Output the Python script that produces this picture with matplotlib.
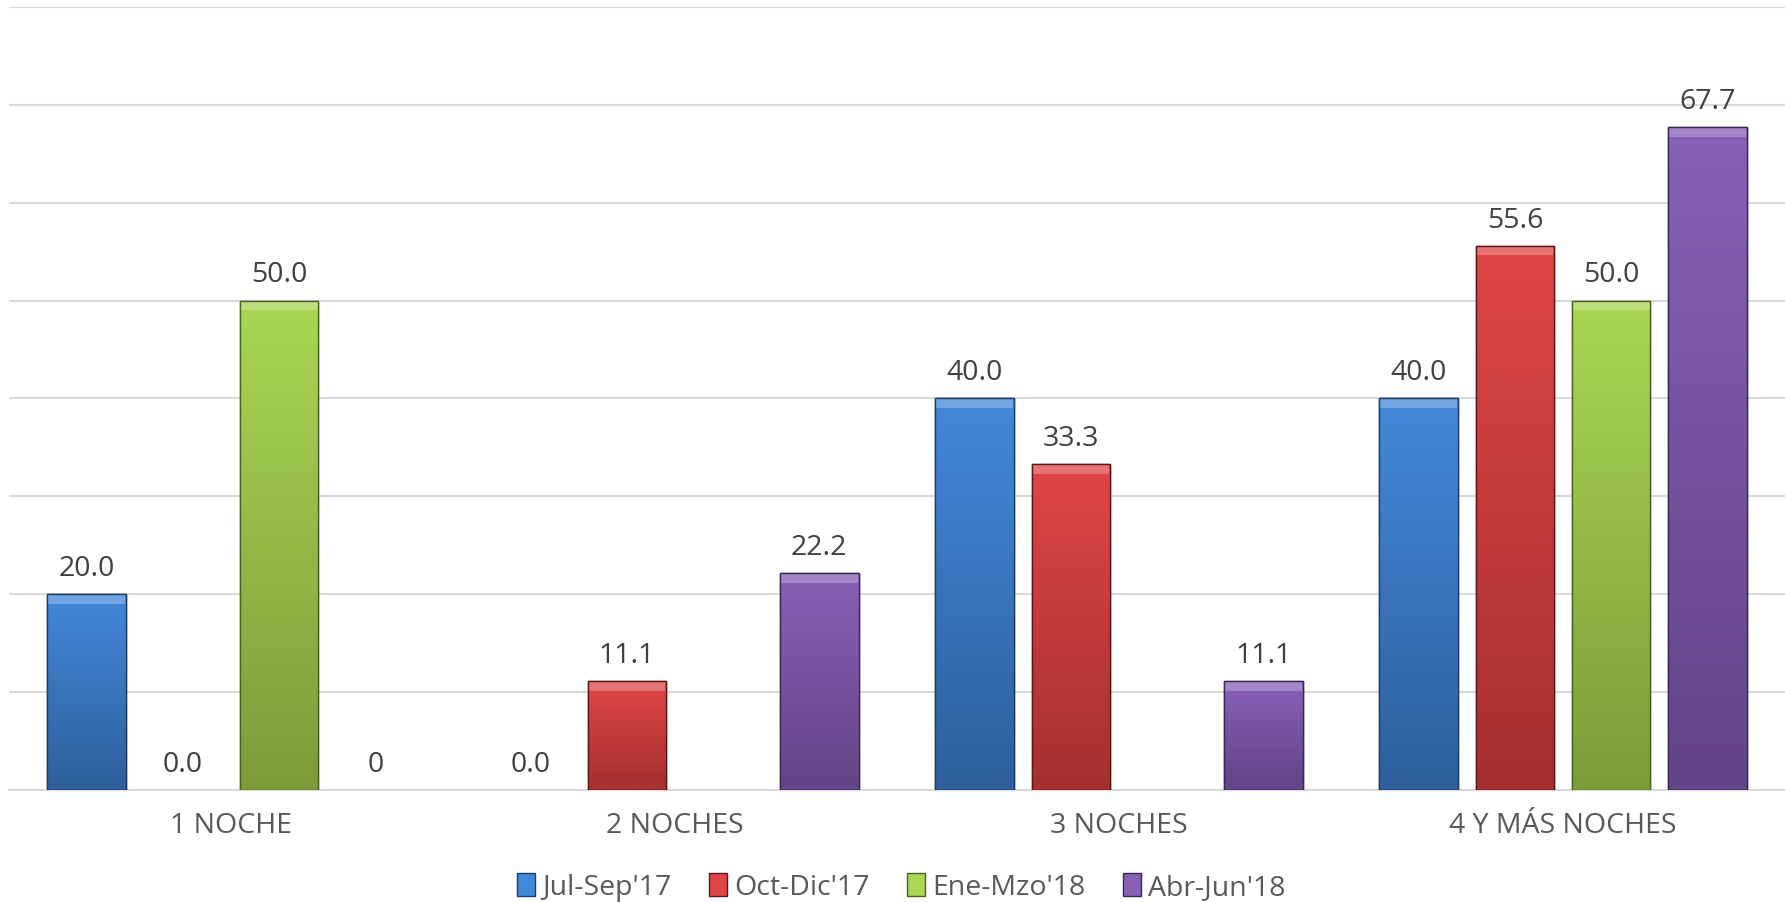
import numpy as np
import matplotlib
matplotlib.use("Agg")
import matplotlib.pyplot as plt
from matplotlib.colors import LinearSegmentedColormap
from matplotlib.patches import Patch

plt.rcParams['font.family'] = ['Open Sans', 'DejaVu Sans']

# data
categories = ["1 NOCHE", "2 NOCHES", "3 NOCHES", "4 Y MÁS NOCHES"]
series = ["Jul-Sep'17", "Oct-Dic'17", "Ene-Mzo'18", "Abr-Jun'18"]
jul_sep = [20.0, 0.0, 40.0, 40.0]
oct_dic = [0.0, 11.1, 33.3, 55.6]
ene_mzo = [50.0, None, None, 50.0]
abr_jun = [0.0, 22.2, 11.1, 67.7]
labels = [
    ["20.0", "0.0", "40.0", "40.0"],
    ["0.0", "11.1", "33.3", "55.6"],
    ["50.0", "", "", "50.0"],
    ["0", "22.2", "11.1", "67.7"],
]
values = [jul_sep, oct_dic, ene_mzo, abr_jun]

# (light top, dark bottom, edge)
colors = [
    ("#4389da", "#2f5f9c", "#1d3d66"),
    ("#e04646", "#a53030", "#5e1616"),
    ("#a9d653", "#7b9c39", "#4b6122"),
    ("#8761b6", "#634486", "#3c2855"),
]

fig = plt.figure(figsize=(17.85, 9.02), dpi=100)
ax = fig.add_axes([0.005, 0.124, 0.995, 0.8685])

x = np.arange(len(categories))
step = 0.2167
width = 0.177

for i, vals in enumerate(values):
    light, dark, edge = colors[i]
    cmap = LinearSegmentedColormap.from_list("g%d" % i, [dark, light])
    for j, v in enumerate(vals):
        xpos = x[j] + (i - 1.5) * step
        if v is not None and v > 0:
            bar = ax.bar(xpos, v, width, color=light, edgecolor=edge,
                         linewidth=1.0, zorder=3)[0]
            grad = np.linspace(0, 1, 100).reshape(-1, 1)
            im = ax.imshow(grad, cmap=cmap, aspect="auto", origin="lower",
                           extent=[xpos - width / 2, xpos + width / 2, 0, v],
                           zorder=3.5)
            im.set_clip_path(bar)
            # top bevel
            ax.bar(xpos, 1.0, width * 0.98, bottom=v - 1.0, color="white",
                   alpha=0.25, linewidth=0, zorder=4)
            ax.bar(xpos, v, width, fill=False, edgecolor=edge,
                   linewidth=1.0, zorder=5)
        txt = labels[i][j]
        if txt:
            ax.annotate(txt, (xpos, v if v else 0), xytext=(0, 8),
                        textcoords="offset points", ha="center", va="bottom",
                        fontsize=20.5, color="#404040", zorder=6)

ax.set_xlim(-0.5, 3.5)
ax.set_ylim(0, 80)
ax.set_yticks(np.arange(0, 81, 10))
ax.yaxis.grid(True, color="#d9d9d9", linewidth=1.5, zorder=0)
ax.set_axisbelow(True)
ax.tick_params(axis="y", left=False, labelleft=False)
ax.tick_params(axis="x", bottom=False, labelsize=20.5, labelcolor="#595959", pad=12)
ax.set_xticks(x)
ax.set_xticklabels(categories)
for s in ["top", "right", "left"]:
    ax.spines[s].set_visible(False)
ax.spines["bottom"].set_color("#d9d9d9")
ax.spines["bottom"].set_linewidth(1.5)

handles = [Patch(facecolor=c[0], edgecolor=c[2], label=s) for c, s in zip(colors, series)]
fig.legend(handles=handles, loc="center", bbox_to_anchor=(0.505, 0.016), ncol=4,
           frameon=False, fontsize=20.5, labelcolor="#595959",
           handlelength=0.65, handleheight=0.85, handletextpad=0.25, columnspacing=1.3)

fig.savefig("out.png", dpi=100)
